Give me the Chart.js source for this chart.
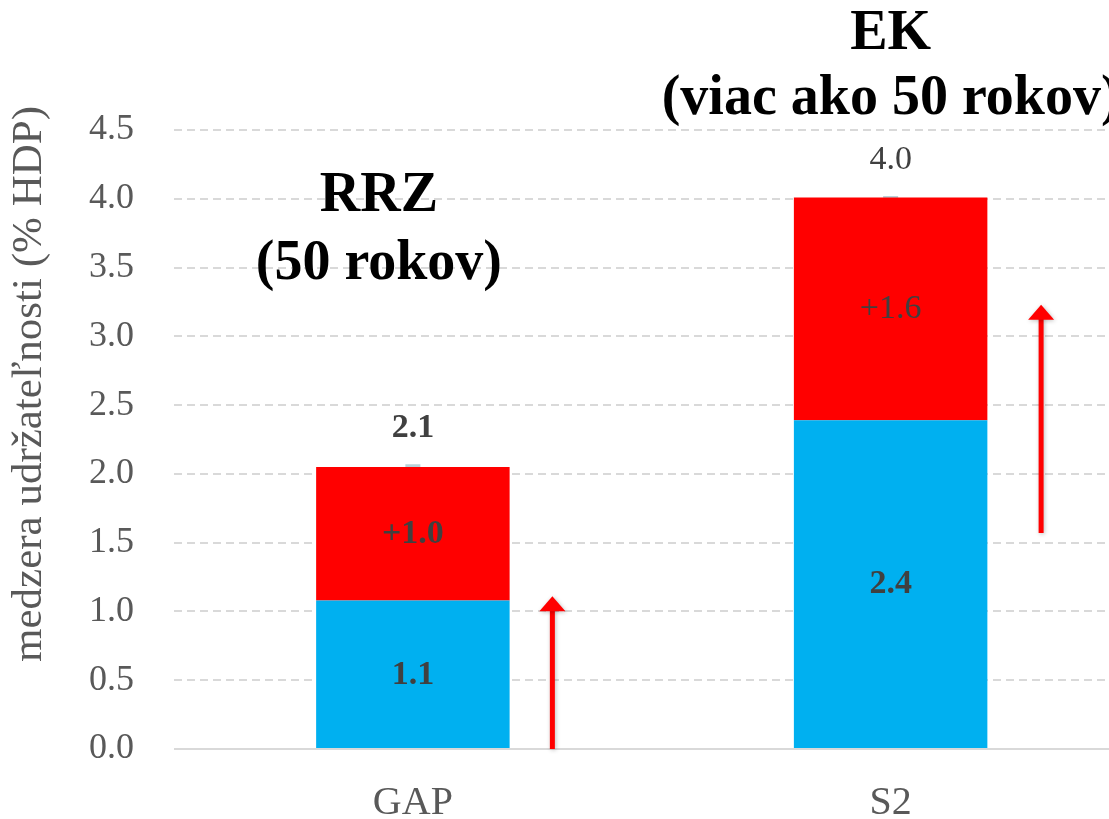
<!DOCTYPE html>
<html>
<head>
<meta charset="utf-8">
<script src="https://cdn.jsdelivr.net/npm/chart.js"></script>
<style>
  html, body { margin: 0; padding: 0; background: #fff; overflow: hidden; }
  #wrap { width: 1109px; height: 819px; overflow: hidden; }
</style>
</head>
<body>
<div id="wrap"><canvas id="chart" width="1140" height="853"></canvas></div>
<script>
// values
const categories = ["GAP", "S2"];
const baseValues = [1.08, 2.39];
const addedValues = [0.97, 1.62];
const totalValues = [2.06, 4.01];
const yTicks = [0, 0.5, 1, 1.5, 2, 2.5, 3, 3.5, 4, 4.5];
// red arrows, from / to in axis units
const arrowFrom = [0, 1.57];
const arrowTo = [1.11, 3.23];
const titles = [["RRZ", "(50 rokov)"], ["EK", "(viac ako 50 rokov)"]];
const yTitle = "medzera udržateľnosti (% HDP)";

const serif = "'Liberation Serif', 'DejaVu Serif', serif";

// draw value labels, the red arrows, the headings and the y title
const overlay = {
  id: "overlay",
  afterDatasetsDraw(chart) {
    const ctx = chart.ctx;
    const x = chart.scales.x, y = chart.scales.y;
    ctx.save();
    ctx.textAlign = "center";
    ctx.textBaseline = "middle";
    ctx.fillStyle = "#404040";
    categories.forEach((c, i) => {
      const cx = x.getPixelForValue(i);
      ctx.font = "bold 34px " + serif;
      ctx.fillText(baseValues[i].toFixed(1), cx, y.getPixelForValue(baseValues[i] / 2));
      ctx.font = (i === 0 ? "bold " : "") + "34px " + serif;
      ctx.fillText("+" + addedValues[i].toFixed(1), cx,
        y.getPixelForValue(baseValues[i] + addedValues[i] / 2));
      ctx.fillText(totalValues[i].toFixed(1), cx, y.getPixelForValue(totalValues[i]) - 37);
    });

    // arrows
    const catW = x.getPixelForValue(1) - x.getPixelForValue(0);
    ctx.strokeStyle = "#ff0000";
    ctx.fillStyle = "#ff0000";
    ctx.shadowColor = "rgba(0,0,0,0.25)";
    ctx.shadowBlur = 4;
    ctx.shadowOffsetX = 1;
    ctx.shadowOffsetY = 1;
    categories.forEach((c, i) => {
      const ax = x.getPixelForValue(i) + catW * (i === 0 ? 0.292 : 0.315);
      const y0 = y.getPixelForValue(arrowFrom[i]);
      const y1 = y.getPixelForValue(arrowTo[i]);
      ctx.lineWidth = 5;
      ctx.beginPath();
      ctx.moveTo(ax, y0);
      ctx.lineTo(ax, y1 + 12);
      ctx.stroke();
      ctx.beginPath();
      ctx.moveTo(ax, y1);
      ctx.lineTo(ax - 13, y1 + 15);
      ctx.lineTo(ax + 13, y1 + 15);
      ctx.closePath();
      ctx.fill();
    });
    ctx.restore();

    // headings
    ctx.save();
    ctx.fillStyle = "#000";
    ctx.textAlign = "center";
    ctx.textBaseline = "middle";
    ctx.font = "bold 56px " + serif;
    const hx = [x.getPixelForValue(0) - 34, x.getPixelForValue(1)];
    const hy = [[197, 265], [35, 100]];
    titles.forEach((t, i) => {
      ctx.fillText(t[0], hx[i], hy[i][0]);
      ctx.fillText(t[1], hx[i], hy[i][1]);
    });

    // y axis title
    ctx.translate(30, 384);
    ctx.rotate(-Math.PI / 2);
    ctx.fillStyle = "#595959";
    ctx.font = "43px " + serif;
    ctx.fillText(yTitle, 0, 0);
    ctx.restore();
  }
};

new Chart(document.getElementById("chart"), {
  type: "bar",
  data: {
    labels: categories,
    datasets: [
      { label: "base", data: baseValues, backgroundColor: "#00b0f0", stack: "s",
        barPercentage: 0.81, categoryPercentage: 0.5 },
      { label: "added", data: addedValues, backgroundColor: "#ff0000", stack: "s",
        barPercentage: 0.81, categoryPercentage: 0.5 },
      { type: "line", label: "total", data: totalValues, stack: "t", showLine: false,
        pointStyle: "line", pointRadius: 7.5, borderWidth: 3,
        borderColor: "#b8d3da", backgroundColor: "#b8d3da" }
    ]
  },
  options: {
    responsive: false,
    animation: false,
    layout: { padding: { top: 130, right: 0, bottom: 4, left: 49 } },
    plugins: { legend: { display: false }, tooltip: { enabled: false } },
    scales: {
      x: {
        stacked: true,
        grid: { display: false },
        border: { display: false },
        ticks: { color: "#595959", font: { family: serif, size: 40 }, padding: 22 }
      },
      y: {
        stacked: true,
        min: 0,
        max: 4.5,
        afterBuildTicks(axis) { axis.ticks = yTicks.map(v => ({ value: v })); },
        border: {
          display: false,
          dash: (c) => (c.tick && c.tick.value === 0 ? [] : [8, 5])
        },
        grid: {
          color: "#d9d9d9",
          lineWidth: 2,
          drawTicks: false
        },
        ticks: {
          color: "#595959",
          font: { family: serif, size: 36 },
          padding: 40,
          callback: (v) => Number(v).toFixed(1)
        }
      }
    }
  },
  plugins: [overlay]
});
</script>
</body>
</html>
